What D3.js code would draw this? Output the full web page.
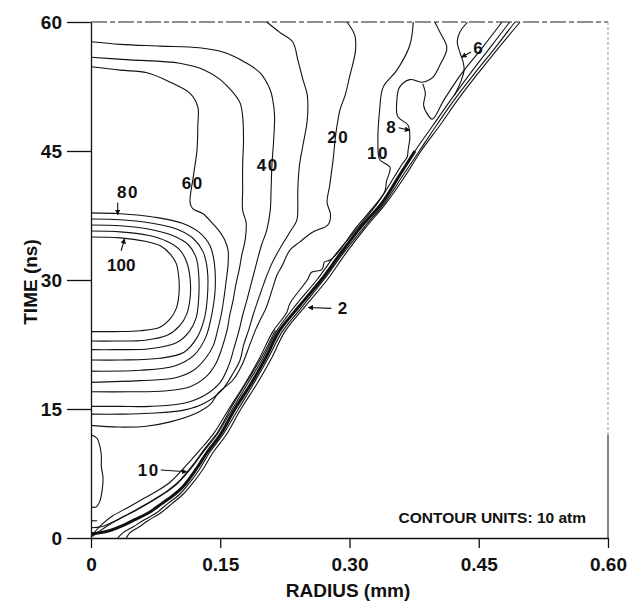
<!DOCTYPE html>
<html>
<head>
<meta charset="utf-8">
<script src="https://cdnjs.cloudflare.com/ajax/libs/d3/7.8.5/d3.min.js"></script>
<style>
body { margin: 0; background: #fff; }
text { font-family: "Liberation Sans", Arial, sans-serif; font-weight: bold; fill: #111; }
</style>
</head>
<body>
<svg id="chart" width="632" height="603"></svg>
<script>
// axis ticks
var radiusTicks = [0, 0.15, 0.30, 0.45, 0.60];
var timeTicks = [0, 15, 30, 45, 60];

// contour lines, [radius (mm), time (ns)]
var c20 = [[.297,60],[.306,58.5],[.307,56.7],[.300,53.6],[.295,51.5],[.289,49.8],[.284,46.9],[.281,44.0],[.277,41.0],[.274,39.0],[.278,37.6],[.275,36.4],[.258,35.6],[.242,34.4],[.231,33.5],[.222,31.7],[.216,30.6],[.210,28.8],[.203,26.7],[.196,25.3],[.191,24.2],[.184,22.4],[.176,20.3],[.165,18.4],[.148,16.9],[.138,15.5],[.122,14.5],[.092,13.5],[.064,13.0],[.032,12.9],[0,13.1]];
var c30 = [[.204,60],[.219,58.8],[.234,57.7],[.240,55.6],[.246,53.3],[.251,51.5],[.251,48.6],[.246,45.7],[.242,43.4],[.240,40.5],[.240,38.7],[.239,37.0],[.231,35.6],[.223,34.3],[.215,32.9],[.208,31.5],[.201,29.7],[.194,27.7],[.188,25.9],[.183,24.2],[.177,22.4],[.173,20.7],[.164,19.0],[.152,17.2],[.132,15.7],[.109,14.9],[.068,14.5],[.034,14.4],[0,14.4]];
var c40 = [[0,57.7],[.034,57.4],[.080,57.2],[.126,57.0],[.153,56.5],[.179,55.3],[.196,54.1],[.208,52.1],[.211,50.9],[.213,49.2],[.212,46.3],[.210,43.4],[.209,40.5],[.208,38.1],[.204,35.8],[.198,34.1],[.193,32.3],[.187,30.0],[.181,27.7],[.176,25.9],[.172,24.2],[.166,22.1],[.160,20.1],[.150,18.1],[.132,16.6],[.109,15.7],[.068,15.3],[.034,15.3],[0,15.3]];
var c50 = [[0,55.9],[.045,55.6],[.103,55.2],[.132,54.4],[.150,53.3],[.164,51.9],[.173,50.6],[.176,49.0],[.177,46.3],[.176,43.4],[.176,40.5],[.176,38.1],[.180,36.7],[.179,34.7],[.175,32.9],[.172,31.2],[.168,29.4],[.165,27.7],[.161,25.9],[.158,24.2],[.152,22.1],[.145,20.3],[.133,18.7],[.115,17.6],[.086,17.1],[.045,17.0],[0,17.0]];
var c60 = [[0,54.8],[.034,54.4],[.065,54.1],[.092,53.0],[.115,51.7],[.124,50.1],[.124,48.0],[.123,45.1],[.119,42.2],[.115,39.0],[.118,38.3],[.130,37.7],[.140,36.7],[.148,35.8],[.155,34.7],[.159,33.5],[.159,31.7],[.157,30.0],[.154,27.7],[.151,25.9],[.147,24.2],[.142,22.4],[.133,20.9],[.119,19.5],[.097,18.6],[.057,18.3],[0,18.1]];
var loop80 = [[0,37.8],[.034,37.7],[.074,37.3],[.106,36.6],[.126,35.5],[.138,34.0],[.143,32.1],[.144,28.8],[.140,25.9],[.133,23.3],[.119,21.2],[.097,20.0],[.057,19.5],[0,19.4]];
var loop85 = [[0,37.1],[.034,37.0],[.071,36.6],[.100,35.9],[.119,34.8],[.130,33.3],[.135,31.2],[.135,27.9],[.131,25.3],[.123,23.3],[.108,21.6],[.080,20.9],[.034,20.7],[0,20.7]];
var loop90 = [[0,36.4],[.034,36.3],[.068,35.9],[.094,35.2],[.113,34.1],[.122,32.6],[.125,30.6],[.125,27.9],[.122,25.6],[.114,24.0],[.099,22.7],[.068,22.0],[.028,21.9],[0,21.9]];
var loop95 = [[0,35.7],[.034,35.6],[.066,35.2],[.088,34.5],[.103,33.5],[.111,32.1],[.115,30.2],[.115,27.9],[.111,26.0],[.103,24.7],[.089,23.6],[.063,23.0],[.028,22.9],[0,22.9]];
var loop100 = [[0,35.0],[.034,34.9],[.063,34.5],[.080,34.0],[.092,33.0],[.099,31.9],[.102,30.2],[.102,28.3],[.099,26.7],[.092,25.5],[.080,24.5],[.057,24.1],[.028,24.0],[0,24.0]];
var axis10 = [[0,12.0],[.007,11.6],[.010,10.8],[.012,9.6],[.012,8.3],[.014,7.0],[.013,5.6],[.010,4.2],[.006,3.6],[0,3.6]];
var axisStub = [[0,2.0],[.007,2.0]];

// shock front band
var front2 = [[.041,0],[.045,0.6],[.056,1.3],[.066,2],[.082,3],[.094,4],[.106,5],[.115,6],[.130,8],[.142,10],[.157,12],[.174,15],[.193,18],[.210,21],[.225,24],[.249,27],[.274,30],[.295,33],[.318,36],[.343,39],[.364,42],[.383,45],[.405,48],[.426,51],[.449,54],[.473,57],[.498,60]];
var front4 = [[.031,0],[.037,0.6],[.049,1.3],[.060,2],[.077,3],[.089,4],[.102,5],[.111,6],[.126,8],[.138,10],[.153,12],[.171,15],[.189,18],[.206,21],[.222,24],[.246,27],[.270,30],[.292,33],[.316,36],[.341,39],[.361,42],[.381,45],[.401,48],[.422,51],[.445,54],[.469,57],[.492,60]];
var front6 = [[0,0.5],[.010,0.6],[.023,0.9],[.036,1.4],[.050,2.1],[.068,3.0],[.082,4.0],[.096,5.0],[.107,6.0],[.122,8.0],[.135,10.0],[.150,12.0],[.167,15.0],[.186,18.0],[.203,21.0],[.218,24.0],[.242,27.0],[.267,30.0],[.289,33.0],[.312,36.0],[.338,39.0],[.357,42.0],[.376,45.0],[.397,48.0],[.418,51.0],[.440,54.0],[.463,57.0],[.486,60.0]];
var front8 = [[.002,0.2],[.010,0.8],[.022,1.6],[.034,2.3],[.052,3.2],[.071,4.3],[.087,5.3],[.100,6.3],[.117,8.2],[.131,10.1],[.146,12],[.164,15],[.182,18],[.200,21],[.215,24],[.237,27],[.262,30],[.284,33],[.309,36],[.333,39],[.352,42],[.362,43.6],[.367,44.3],[.368,45.1],[.370,46.6],[.368,48.0],[.356,49.0],[.355,50.9],[.358,52.4],[.370,53.3],[.384,53.0],[.396,53.5],[.405,55.0],[.413,57.0],[.405,58.8],[.399,60]];
var front8b = [[.385,52.8],[.388,51.7],[.386,50.3],[.391,49.2],[.396,48.7],[.410,51],[.430,54],[.454,57],[.477,60]];
var front10 = [[0,0.1],[.006,0.9],[.014,1.7],[.024,2.5],[.042,3.5],[.061,4.6],[.079,5.6],[.093,6.6],[.111,8.5],[.126,10.2],[.142,12.1],[.160,15],[.179,18],[.196,21],[.211,24],[.227,26.2],[.231,27.3],[.251,30],[.256,30.9],[.268,31.2],[.271,32.1],[.277,32.3],[.285,33],[.307,36],[.332,39],[.341,40.3],[.343,41.5],[.347,43.1],[.335,44.0],[.333,45.9],[.335,49.8],[.339,52.4],[.355,54.4],[.370,57.3],[.374,60]];
var front12 = [[0,1.2],[.012,1.3],[.024,1.8],[.040,2.6],[.058,3.6],[.075,4.6],[.090,5.6],[.104,6.8],[.119,8.6],[.132,10.4],[.147,12.3],[.163,15.2],[.181,18.2],[.199,21.2],[.214,24.2]];
var lobe6 = [[.422,51.5],[.430,53.3],[.433,54.4],[.432,55.3],[.428,56.5],[.425,57.7],[.428,58.8],[.437,60]];

// labels [text, radius, time] and arrows [r0, t0, r1, t1]
var contourLabels = [["100",.035,31.7],["80",.043,40.2],["60",.118,41.3],["40",.205,43.4],["20",.287,46.6],["10",.333,44.8],["8",.348,47.8],["6",.449,57.0],["2",.292,26.7],["10",.067,7.9]];
var labelArrows = [[.035,33.4,.039,34.8],[.031,39.0,.031,37.6],[.357,47.7,.370,47.4],[.441,56.5,.430,55.9],[.279,26.7,.252,26.8],[.081,7.9,.111,7.7]];

var x = d3.scaleLinear().domain([0, 0.6]).range([91, 608]);
var y = d3.scaleLinear().domain([0, 60]).range([538, 22]);

var svg = d3.select("#chart");

svg.append("defs").append("clipPath").attr("id", "plot")
	.append("rect").attr("x", 90).attr("y", 21).attr("width", 519).attr("height", 518);
var marker = svg.select("defs").append("marker").attr("id", "head")
	.attr("viewBox", "0 0 10 10").attr("refX", 9).attr("refY", 5)
	.attr("markerWidth", 5).attr("markerHeight", 5).attr("orient", "auto");
marker.append("path").attr("d", "M0,0L10,5L0,10z").attr("fill", "#111");

var line = d3.line()
	.x(function(d) { return x(d[0]); })
	.y(function(d) { return y(d[1]); })
	.curve(d3.curveCatmullRom.alpha(0.5));

var thin = [c20, c30, c40, c50, c60, loop80, loop85, loop90, loop95, loop100, axis10, axisStub,
	front2, front4, front6, front8, front8b, front10, front12, lobe6];

var g = svg.append("g").attr("clip-path", "url(#plot)");
g.selectAll("path.contour").data(thin).enter().append("path")
	.attr("class", "contour")
	.attr("d", line)
	.attr("fill", "none")
	.attr("stroke", "#111")
	.attr("stroke-width", 1.1)
	.attr("stroke-linejoin", "round");

// dense core of the front
g.append("path")
	.attr("d", line(front6.filter(function(d) { return d[1] <= 45; })))
	.attr("fill", "none").attr("stroke", "#111").attr("stroke-width", 3);

// frame
svg.append("line").attr("x1", x(0)).attr("x2", x(0.6)).attr("y1", y(60)).attr("y2", y(60))
	.attr("stroke", "#222").attr("stroke-width", 1.2).attr("stroke-dasharray", "16,3,5,3");
svg.append("line").attr("x1", x(0.6)).attr("x2", x(0.6)).attr("y1", y(60)).attr("y2", y(12))
	.attr("stroke", "#aaa").attr("stroke-width", 1.2).attr("stroke-dasharray", "3,2");
svg.append("line").attr("x1", x(0.6)).attr("x2", x(0.6)).attr("y1", y(12)).attr("y2", y(0))
	.attr("stroke", "#333").attr("stroke-width", 1.2);

// axes
var xAxis = svg.append("g").attr("transform", "translate(0,538)")
	.call(d3.axisBottom(x).tickValues(radiusTicks).tickSize(10).tickSizeOuter(0).tickPadding(10)
		.tickFormat(function(d) { return d === 0 ? "0" : d.toFixed(2); }));
var yAxis = svg.append("g").attr("transform", "translate(91,0)")
	.call(d3.axisLeft(y).tickValues(timeTicks).tickSize(24).tickSizeOuter(0).tickPadding(5)
		.tickFormat(d3.format("d")));
svg.selectAll(".tick text").style("font-size", "19px").style("font-family", "'Liberation Sans', Arial, sans-serif").style("font-weight", "bold").attr("fill", "#111");
svg.selectAll(".tick line, .domain").attr("stroke", "#111").attr("stroke-width", 1.3);

svg.append("text").attr("x", 348).attr("y", 597).attr("text-anchor", "middle")
	.style("font-size", "19px").text("RADIUS (mm)");
svg.append("text").attr("transform", "translate(37,282) rotate(-90)").attr("text-anchor", "middle")
	.style("font-size", "19px").text("TIME (ns)");

// contour labels
svg.selectAll("text.lab").data(contourLabels).enter().append("text")
	.attr("class", "lab")
	.attr("x", function(d) { return x(d[1]); })
	.attr("y", function(d) { return y(d[2]); })
	.attr("dy", "0.35em")
	.attr("text-anchor", "middle")
	.style("font-size", "17px")
	.style("letter-spacing", function(d) { return d[0].length == 2 ? "1.5px" : "0px"; })
	.text(function(d) { return d[0]; });

svg.selectAll("line.arrow").data(labelArrows).enter().append("line")
	.attr("class", "arrow")
	.attr("x1", function(d) { return x(d[0]); })
	.attr("y1", function(d) { return y(d[1]); })
	.attr("x2", function(d) { return x(d[2]); })
	.attr("y2", function(d) { return y(d[3]); })
	.attr("stroke", "#111").attr("stroke-width", 1.1)
	.attr("marker-end", "url(#head)");

svg.append("text").attr("x", 586).attr("y", 523).attr("text-anchor", "end")
	.style("font-size", "15.5px").text("CONTOUR UNITS: 10 atm");
</script>
</body>
</html>
